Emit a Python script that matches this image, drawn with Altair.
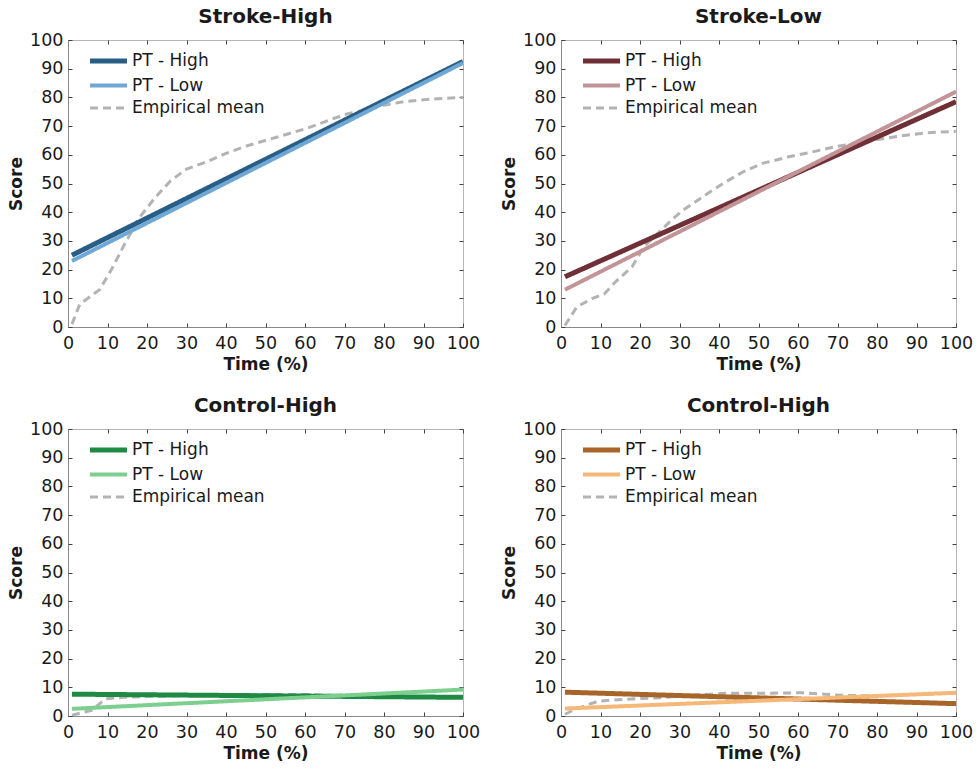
import altair as alt
import pandas as pd

# ---------------- data ----------------
panel_titles = ["Stroke-High", "Stroke-Low", "Control-High", "Control-High"]
series_names = ["PT - High", "PT - Low", "Empirical mean"]
tick_values = [0, 10, 20, 30, 40, 50, 60, 70, 80, 90, 100]

pt_time = [1, 100]

# Stroke-High
sh_high = [25.0, 92.5]
sh_low = [23.0, 92.0]
sh_emp_t = [1, 3, 8, 11, 14, 18, 22, 26, 30, 35, 40, 45, 50, 55, 60, 65, 70, 75, 80, 85, 90, 95, 100]
sh_emp_s = [1, 8, 13, 20, 28, 38, 45, 51, 55, 57.5, 60.5, 63, 65, 67, 69, 71.5, 74, 75.6, 77.3, 78.5, 79.2, 79.6, 80]

# Stroke-Low
sl_high = [17.5, 78.5]
sl_low = [13.0, 82.0]
sl_emp_t = [1, 4, 8, 11, 14, 18, 21, 24.5, 28, 31, 36, 41, 46, 51, 58, 63, 70, 75, 80, 85, 92, 100]
sl_emp_s = [0.5, 7, 10, 11.6, 16, 21, 28, 32.6, 37.3, 40.8, 45.5, 50, 54, 57, 59.4, 60.8, 63, 64, 65.3, 66.4, 67.6, 68.2]

# Control-High (green)
cg_high = [7.6, 6.5]
cg_low = [2.5, 9.2]
cg_emp_t = [1, 6, 9.5, 14, 25, 42, 61, 70, 80, 90, 100]
cg_emp_s = [0.3, 2, 6, 6.5, 7, 7.5, 7.5, 7.0, 6.9, 6.8, 6.7]

# Control-High (orange)
co_high = [8.3, 4.3]
co_low = [2.6, 8.1]
co_emp_t = [1, 3.5, 9.5, 16, 25, 33, 42, 50, 61, 67, 71, 80, 90, 100]
co_emp_s = [0.6, 2.3, 5.2, 5.8, 6.4, 7.2, 7.9, 7.9, 8.1, 7.6, 7.2, 7.0, 7.5, 8.0]

panel_colors = [
    ["#285d85", "#6fa8d5", "#b3b3b3"],
    ["#6f2f37", "#c29397", "#b3b3b3"],
    ["#1e8a44", "#7ccf8e", "#b3b3b3"],
    ["#a8652a", "#f5b878", "#b3b3b3"],
]

panel_data = [
    (sh_high, sh_low, sh_emp_t, sh_emp_s),
    (sl_high, sl_low, sl_emp_t, sl_emp_s),
    (cg_high, cg_low, cg_emp_t, cg_emp_s),
    (co_high, co_low, co_emp_t, co_emp_s),
]

# ---------------- style ----------------
W, H = 395, 287
FONT = "DejaVu Sans"
TXT = "#1a1a1a"


def build_df(high, low, emp_t, emp_s):
    rows = []
    for t, s in zip(emp_t, emp_s):
        rows.append({"series": "Empirical mean", "time": t, "score": s})
    for t, s in zip(pt_time, high):
        rows.append({"series": "PT - High", "time": t, "score": s})
    for t, s in zip(pt_time, low):
        rows.append({"series": "PT - Low", "time": t, "score": s})
    return pd.DataFrame(rows)


def panel(title, data, colors):
    df = build_df(*data)
    xs = alt.Scale(domain=[0, 100], nice=False, zero=False)
    ys = alt.Scale(domain=[0, 100], nice=False, zero=False)
    base = alt.Chart(df)

    lines = base.mark_line(clip=True, strokeCap="butt").encode(
        x=alt.X("time:Q", scale=xs, title="Time (%)",
                axis=alt.Axis(orient="bottom", values=tick_values, ticks=False,
                              grid=False, domainColor="#8a8a8a", labelPadding=7,
                              titlePadding=5, labelFlush=False)),
        y=alt.Y("score:Q", scale=ys, title="Score",
                axis=alt.Axis(orient="left", values=tick_values, ticks=False,
                              grid=False, domainColor="#8a8a8a", labelPadding=5,
                              titlePadding=4, labelFlush=False)),
        color=alt.Color("series:N", title=None,
                        scale=alt.Scale(domain=series_names, range=colors)),
        strokeDash=alt.StrokeDash("series:N", title=None,
                                  scale=alt.Scale(domain=series_names,
                                                  range=[[1, 0], [1, 0], [8, 5]])),
        strokeWidth=alt.StrokeWidth("series:N", title=None,
                                    scale=alt.Scale(domain=series_names,
                                                    range=[5, 3, 2.5])),
    )

    tick_axis = dict(labels=False, domain=False, title=None, ticks=True,
                     tickSize=4, tickColor="#444444", tickWidth=1,
                     values=tick_values, grid=False, minExtent=0, maxExtent=4)

    ticks_a = base.mark_point(opacity=0).encode(
        x=alt.X("time:Q", scale=xs, axis=alt.Axis(orient="top", offset=-H, **tick_axis)),
        y=alt.Y("score:Q", scale=ys, axis=alt.Axis(orient="right", offset=-W, **tick_axis)),
    )
    ticks_b = base.mark_point(opacity=0).encode(
        x=alt.X("time:Q", scale=xs, axis=alt.Axis(orient="bottom", offset=-H, **tick_axis)),
        y=alt.Y("score:Q", scale=ys, axis=alt.Axis(orient="left", offset=-W, **tick_axis)),
    )

    return (
        alt.layer(lines, ticks_a, ticks_b)
        .resolve_axis(x="independent", y="independent")
        .properties(width=W, height=H, title=title)
    )


panels = [panel(t, d, c) for t, d, c in zip(panel_titles, panel_data, panel_colors)]

indep = dict(color="independent", strokeDash="independent", strokeWidth="independent")

row1 = alt.hconcat(panels[0], panels[1], spacing=19).resolve_scale(**indep).resolve_legend(**indep)
row2 = alt.hconcat(panels[2], panels[3], spacing=19).resolve_scale(**indep).resolve_legend(**indep)

chart = (
    alt.vconcat(row1, row2, spacing=22)
    .resolve_scale(**indep)
    .resolve_legend(**indep)
    .properties(padding={"left": 7, "top": 6, "right": 4, "bottom": 2}, background="white")
    .configure_view(stroke="#b5b5b5", strokeWidth=1)
    .configure_axis(labelFont=FONT, labelFontSize=17.5, labelColor=TXT,
                    titleFont=FONT, titleFontSize=17, titleFontWeight="bold",
                    titleColor=TXT, domainWidth=1)
    .configure_title(font=FONT, fontSize=20, fontWeight="bold", color=TXT,
                     anchor="middle", offset=4)
    .configure_legend(orient="none", legendX=22, legendY=12.5, padding=0,
                      symbolType="M-9.25,0H9.25", symbolSize=16, symbolOffset=10,
                      labelOffset=15, labelFont=FONT, labelFontSize=17,
                      labelColor=TXT, rowPadding=4.5, titlePadding=0)
)

chart.save("out.html", embed_options={"renderer": "svg", "actions": False})
